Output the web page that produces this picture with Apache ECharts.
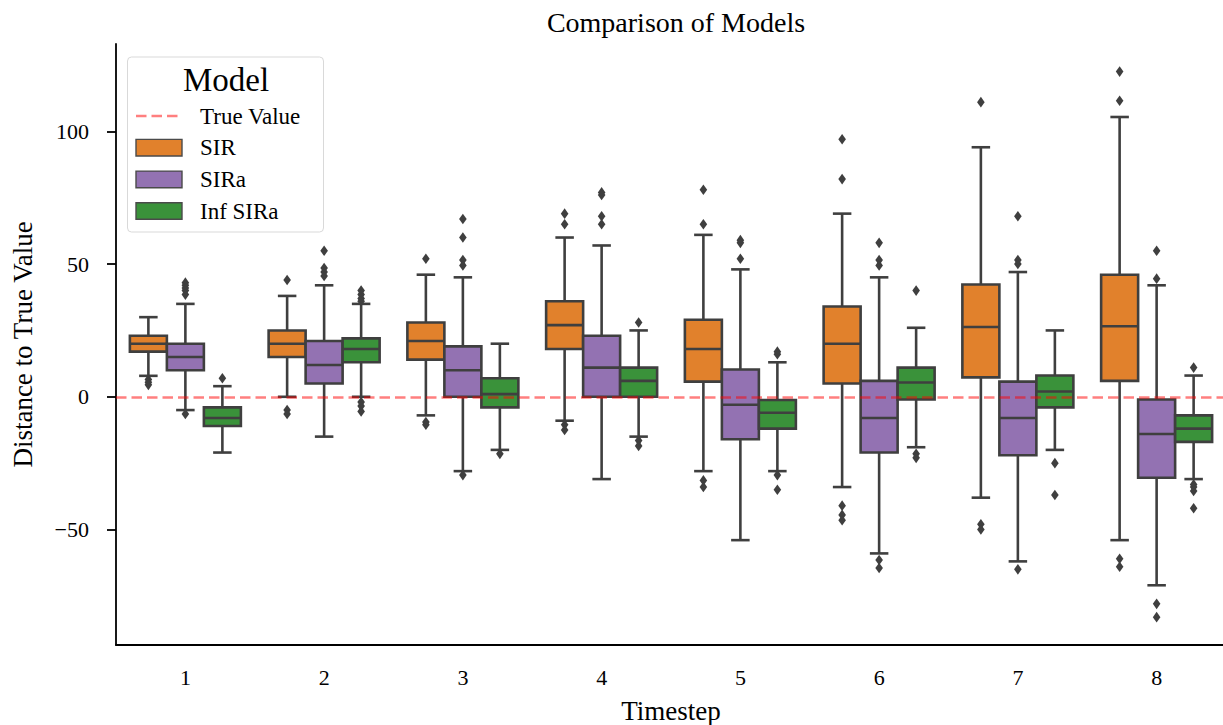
<!DOCTYPE html>
<html>
<head>
<meta charset="utf-8">
<script src="https://cdn.jsdelivr.net/npm/echarts@6/dist/echarts.min.js"></script>
<style>
  html, body { margin: 0; padding: 0; background: #ffffff; }
  #chart { width: 1223px; height: 725px; }
</style>
</head>
<body>
<div id="chart"></div>
<script>
// Timesteps on the x axis
const timesteps = ['1', '2', '3', '4', '5', '6', '7', '8'];
const modelNames = ['SIR', 'SIRa', 'Inf SIRa'];

// Box statistics per timestep: [lower whisker, Q1, median, Q3, upper whisker]
const sirBoxes = [
  [7.9, 17, 20, 23, 30],
  [0, 15, 20, 25, 38],
  [-7, 14, 21, 28, 46],
  [-9, 18, 27, 36, 60],
  [-28, 5.7, 18, 29, 61],
  [-34, 5, 20, 34, 69],
  [-38, 7.3, 26.3, 42.3, 94],
  [-54, 6, 26.6, 46, 105.4]
];
const siraBoxes = [
  [-5, 10, 15, 20, 35],
  [-15, 5, 12, 21, 42],
  [-28, 0, 10, 19, 45],
  [-31, 0, 11, 23, 57],
  [-54, -16, -3, 10.3, 48],
  [-59, -21, -8, 6, 45],
  [-62, -22, -8, 5.7, 47],
  [-71, -30.5, -14, -1, 42]
];
const infSiraBoxes = [
  [-21, -11, -8, -4, 4],
  [0, 13, 18, 22, 35],
  [-20, -4, 1, 7, 20],
  [-15, 0, 6, 11, 25],
  [-28, -12, -6, -1.2, 13],
  [-19, -1, 5.4, 11, 26],
  [-20, -4, 2, 8, 25],
  [-31, -17, -12, -7, 8]
];

// Outliers per timestep
const sirOutliers = [
  [6.5, 5.5, 4.5],
  [44, -5, -6.5],
  [52, -9.5, -10.5],
  [69, 65, -10.5, -12.5],
  [78, 65, -31.5, -34],
  [97, 82, -41, -44.5, -46.5],
  [111, -48, -50],
  [122.5, 111.5, -61, -64]
];
const siraOutliers = [
  [43, 42, 41, 40, 38.5, -6.5],
  [55, 48.5, 47, 45.5],
  [67, 60, 51.5, 49.5, -29.5],
  [77, 76, 68, 65],
  [59, 58, 52],
  [58, 51.5, 49.5, -61.5, -64.5],
  [68, 51.5, 50, -65],
  [55, 44.5, -78, -83]
];
const infSiraOutliers = [
  [7],
  [40, 38.5, 37, 36, -2, -3.5, -5.5],
  [-21.5],
  [28, -16.5, -18.5],
  [17, 16, -29.5, -35],
  [40, -21.5, -23],
  [-25, -37],
  [11, -33, -34, -35.5, -42]
];

const trueValue = 0;
const yTickValues = [-50, 0, 50, 100];
const yRange = [-93.5, 132.9];

const boxColors = ['#e1812c', '#9372b2', '#3a923a'];
const edgeColor = '#3f3f3f';
const serif = "'Liberation Serif', 'DejaVu Serif', serif";
const lw = 2.6;

const allBoxes = [sirBoxes, siraBoxes, infSiraBoxes];
const allOutliers = [sirOutliers, siraOutliers, infSiraOutliers];

// Width of one model's box within a timestep band (three boxes fill 80% of the band)
function boxWidth(api) {
  return api.size([1, 0])[0] * 0.8 / modelNames.length;
}

function boxRenderer(hue, color) {
  return function (params, api) {
    const ci = api.value(0);
    const w = boxWidth(api);
    const cx = api.coord([ci, 0])[0] + (hue - 1) * w;
    const y = k => api.coord([ci, api.value(k)])[1];
    const yLow = y(1), yQ1 = y(2), yMed = y(3), yQ3 = y(4), yHigh = y(5);
    const st = { stroke: edgeColor, lineWidth: lw };
    return {
      type: 'group',
      children: [
        { type: 'line', shape: { x1: cx, y1: yQ3, x2: cx, y2: yHigh }, style: st },
        { type: 'line', shape: { x1: cx, y1: yQ1, x2: cx, y2: yLow }, style: st },
        { type: 'line', shape: { x1: cx - w / 4, y1: yHigh, x2: cx + w / 4, y2: yHigh }, style: st },
        { type: 'line', shape: { x1: cx - w / 4, y1: yLow, x2: cx + w / 4, y2: yLow }, style: st },
        { type: 'rect', shape: { x: cx - w / 2, y: yQ3, width: w, height: yQ1 - yQ3 },
          style: { fill: color, stroke: edgeColor, lineWidth: lw } },
        { type: 'line', shape: { x1: cx - w / 2, y1: yMed, x2: cx + w / 2, y2: yMed }, style: st }
      ]
    };
  };
}

function outlierRenderer(hue) {
  return function (params, api) {
    const ci = api.value(0);
    const w = boxWidth(api);
    const p = api.coord([ci, api.value(1)]);
    const cx = p[0] + (hue - 1) * w;
    const cy = p[1];
    return {
      type: 'polygon',
      shape: { points: [[cx, cy - 5.3], [cx + 3.8, cy], [cx, cy + 5.3], [cx - 3.8, cy]] },
      style: { fill: edgeColor, stroke: null }
    };
  };
}

const series = [];
modelNames.forEach((name, hue) => {
  series.push({
    name: name,
    type: 'custom',
    renderItem: boxRenderer(hue, boxColors[hue]),
    encode: { x: 0, y: [1, 2, 3, 4, 5] },
    data: allBoxes[hue].map((b, i) => [i].concat(b)),
    silent: true,
    z: 2
  });
  series.push({
    name: name + ' outliers',
    type: 'custom',
    renderItem: outlierRenderer(hue),
    encode: { x: 0, y: 1 },
    data: allOutliers[hue].flatMap((vals, i) => vals.map(v => [i, v])),
    silent: true,
    z: 2
  });
});

// Reference line at the true value, drawn over the boxes
series.push({
  name: 'True Value',
  type: 'line',
  data: [],
  z: 5,
  silent: true,
  markLine: {
    silent: true,
    symbol: 'none',
    label: { show: false },
    lineStyle: { color: 'rgba(255,0,0,0.5)', type: [10.5, 5], width: 2.6 },
    data: [{ yAxis: trueValue }]
  }
});

// Legend box in the upper-left corner of the plot
const legendRows = [116, 147.7, 179.4, 211];
const legendGraphics = [
  { type: 'rect', shape: { x: 127.5, y: 57, width: 196, height: 175, r: 4 },
    style: { fill: 'rgba(255,255,255,0.8)', stroke: '#d9d9d9', lineWidth: 1 } },
  { type: 'text', x: 226, y: 80,
    style: { text: 'Model', font: "33px " + serif, fill: '#000', align: 'center', verticalAlign: 'middle' } },
  { type: 'line', shape: { x1: 136, y1: legendRows[0], x2: 182, y2: legendRows[0] },
    style: { stroke: 'rgba(255,0,0,0.5)', lineWidth: 2.6, lineDash: [10.5, 5] } },
  { type: 'text', x: 200, y: legendRows[0],
    style: { text: 'True Value', font: "23px " + serif, fill: '#000', verticalAlign: 'middle' } }
];
modelNames.forEach((name, hue) => {
  const ry = legendRows[hue + 1];
  legendGraphics.push({
    type: 'rect', shape: { x: 136, y: ry - 8.3, width: 46, height: 16.6 },
    style: { fill: boxColors[hue], stroke: '#4a4a4a', lineWidth: 1.4 }
  });
  legendGraphics.push({
    type: 'text', x: 200, y: ry,
    style: { text: name, font: "23px " + serif, fill: '#000', verticalAlign: 'middle' }
  });
});

const chart = echarts.init(document.getElementById('chart'), null, { renderer: 'svg' });
chart.setOption({
  backgroundColor: '#ffffff',
  animation: false,
  title: {
    text: 'Comparison of Models',
    left: 671,
    top: 3,
    textAlign: 'center',
    textStyle: { fontFamily: serif, fontSize: 28, fontWeight: 'normal', color: '#000' }
  },
  grid: { left: 116, top: 44, width: 1110, bottom: 80, containLabel: false, outerBoundsMode: 'none' },
  xAxis: {
    type: 'category',
    data: timesteps,
    boundaryGap: true,
    name: 'Timestep',
    nameLocation: 'middle',
    nameGap: 52,
    nameTextStyle: { fontFamily: serif, fontSize: 27, color: '#000' },
    axisLine: { onZero: false, lineStyle: { color: '#000', width: 1.8 } },
    axisTick: { alignWithLabel: true, length: 9, lineStyle: { color: '#000', width: 1.8 } },
    axisLabel: { fontFamily: serif, fontSize: 22, color: '#000', margin: 21 },
    splitLine: { show: false }
  },
  yAxis: {
    type: 'value',
    min: yRange[0],
    max: yRange[1],
    name: 'Distance to True Value',
    nameLocation: 'middle',
    nameGap: 80,
    nameRotate: 90,
    nameTextStyle: { fontFamily: serif, fontSize: 27, color: '#000' },
    axisLine: { show: true, lineStyle: { color: '#000', width: 1.8 } },
    axisTick: { show: true, length: 9, customValues: yTickValues, lineStyle: { color: '#000', width: 1.8 } },
    axisLabel: {
      fontFamily: serif, fontSize: 22, color: '#000', margin: 27,
      customValues: yTickValues,
      formatter: v => (v < 0 ? '\u2212' + Math.abs(v) : String(v))
    },
    splitLine: { show: false }
  },
  graphic: { elements: legendGraphics.map(g => Object.assign({ z: 100 }, g)) },
  series: series
});
</script>
</body>
</html>
